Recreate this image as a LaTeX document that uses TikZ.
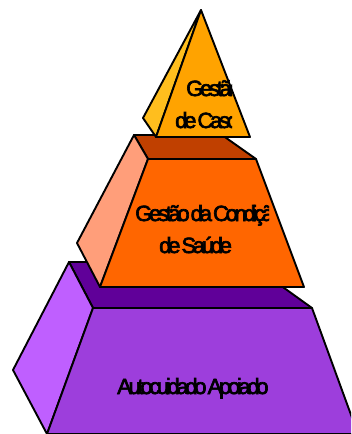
\documentclass[tikz,border=0pt]{standalone}
\usepackage{fontspec}
\setmainfont{Liberation Sans}
\newfontfamily\tightfont{Liberation Sans}[LetterSpace=-15,WordSpace=0.4,FakeBold=3]
\definecolor{caseFront}{RGB}{255,163,0}
\definecolor{caseSide}{RGB}{255,190,30}
\definecolor{condFront}{RGB}{255,102,0}
\definecolor{condSide}{RGB}{255,158,122}
\definecolor{condTop}{RGB}{192,64,0}
\definecolor{selfFront}{RGB}{157,62,220}
\definecolor{selfSide}{RGB}{191,95,255}
\definecolor{selfTop}{RGB}{96,0,153}

\begin{document}
\begin{tikzpicture}[x=1pt,y=-1pt,
  face/.style = {draw,line width=1.9pt,line join=round},
  lbl/.style = {inner sep=0pt,anchor=base west,
        font=\tightfont\fontsize{22}{24}\selectfont}]
 \clip (0,0) rectangle (351,434);
 % base: autocuidado
 \filldraw[face,fill=selfTop]   (69,262) -- (93,308) -- (312,308) -- (248,262) -- cycle;
 \filldraw[face,fill=selfSide]  (69,262) -- (93,308) -- (47,434) -- (13,370) -- cycle;
 \filldraw[face,fill=selfFront] (93,308) -- (312,308) -- (358,434) -- (47,434) -- cycle;
 % middle: condicao
 \filldraw[face,fill=condTop]   (134,135) -- (148,159) -- (256,159) -- (222,135) -- cycle;
 \filldraw[face,fill=condSide]  (134,135) -- (148,159) -- (100,287) -- (77,243) -- cycle;
 \filldraw[face,fill=condFront] (148,159) -- (256,159) -- (304,287) -- (100,287) -- cycle;
 % top: caso
 \filldraw[face,fill=caseSide]  (201,10) -- (143,118) -- (156,137) -- cycle;
 \filldraw[face,fill=caseFront] (201,10) -- (156,137) -- (250,137) -- cycle;
 % labels
 \node[lbl] (self) at (117,394) {Autocuidado Apoiado};
 \begin{scope}
  \clip (0,0) rectangle (269,434);
  \node[lbl] (cond1) at (135,221) {Gestão da Condição};
  \node[lbl] (cond2) at (159,253) {de Saúde};
 \end{scope}
 \begin{scope}
  \clip (0,0) rectangle (232,434);
  \node[lbl] (case1) at (186,96) {Gestão};
  \node[lbl] (case2) at (175,128) {de Caso};
 \end{scope}
\end{tikzpicture}
\end{document}
